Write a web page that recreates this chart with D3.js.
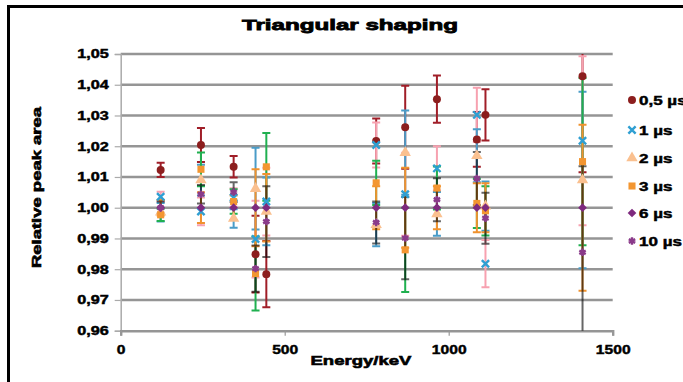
<!DOCTYPE html>
<html><head><meta charset="utf-8">
<script src="https://cdn.jsdelivr.net/npm/d3@7"></script>
<style>
body{margin:0;background:#fff;overflow:hidden}
text{font-family:"Liberation Sans",Arial,sans-serif;font-weight:bold;fill:#000;stroke:#000;stroke-width:0.45px}
</style>
</head><body>
<svg id="c" width="683" height="382"></svg>
<script>
// ---- data ----
const energies = [121.8, 244.7, 344.3, 411.1, 444.0, 778.9, 867.4, 964.1, 1085.8, 1112.1, 1408.0];
const seriesNames = ["0,5 µs", "1 µs", "2 µs", "3 µs", "6 µs", "10 µs"];
const s05 = [1.0123, 1.0204, 1.0133, 0.9849, 0.9784, 1.0217, 1.0262, 1.0353, 1.0222, 1.0302, 1.0428];
const e05 = [0.0023, 0.0055, 0.0035, 0.0125, 0.0108, 0.0073, 0.0135, 0.0077, 0.0089, 0.0083, 0.0313];
const s1  = [1.0036, 0.9988, 1.0033, 0.9898, 1.0020, 1.0204, 1.0044, 1.0128, 1.0302, 0.9818, 1.0218];
const e1  = [0.0016, 0.0045, 0.0030, 0.0125, 0.0110, 0.0073, 0.0135, 0.0072, 0.0088, 0.0077, 0.0275];
const s2  = [0.9985, 1.0090, 0.9965, 1.0062, 0.9988, 0.9945, 1.0179, 0.9980, 1.0169, 1.0005, 1.0090];
const e2  = [0.0030, 0.0050, 0.0030, 0.0133, 0.0110, 0.0070, 0.0137, 0.0071, 0.0086, 0.0080, 0.0287];
const s3  = [0.9977, 1.0125, 1.0020, 0.9786, 1.0133, 1.0081, 0.9863, 1.0064, 1.0014, 0.9990, 1.0150];
const e3  = [0.0020, 0.0055, 0.0040, 0.0120, 0.0110, 0.0072, 0.0137, 0.0070, 0.0080, 0.0080, 0.0272];
const s6  = [1.0000, 1.0000, 1.0000, 1.0000, 1.0000, 1.0000, 1.0000, 1.0000, 1.0000, 1.0000, 1.0000];
const e6  = [0.0025, 0.0050, 0.0040, 0.0125, 0.0110, 0.0070, 0.0130, 0.0070, 0.0080, 0.0080, 0.0270];
const s10 = [1.0000, 1.0044, 1.0051, 0.9802, 0.9955, 0.9952, 0.9901, 1.0026, 1.0095, 0.9966, 0.9855];
const e10 = [0.0020, 0.0030, 0.0032, 0.0075, 0.0115, 0.0068, 0.0134, 0.0070, 0.0086, 0.0083, 0.0280];
const yTicks = [0.96, 0.97, 0.98, 0.99, 1.00, 1.01, 1.02, 1.03, 1.04, 1.05];
const xTicks = [0, 500, 1000, 1500];

// ---- styles ----
const markerColors = ["#8c1e1e", "#2f9fd2", "#fac08f", "#f39631", "#7e2a7e", "#8a3a8a"];
const barColors    = ["#a01e28", "#f7a1b0", "#4a9cc8", "#20b050", "#f0922e", "#000000"];
const barOpacity   = [1, 1, 1, 1, 1, 0.6];
const symbols = [d3.symbolCircle, d3.symbolX, d3.symbolTriangle, d3.symbolSquare, "diamond", d3.symbolAsterisk];
const symbolSize = [50, 36, 56, 50, 38, 38];

const values = [s05, s1, s2, s3, s6, s10];
const errors = [e05, e1, e2, e3, e6, e10];

const svg = d3.select("#c");
const X0 = 120.7, X1 = 612.7, Y0 = 330.7, Y1 = 54;
const x = d3.scaleLinear().domain([0, 1500]).range([X0, X1]);
const y = d3.scaleLinear().domain([0.96, 1.05]).range([Y0, Y1]);
const fmt = v => v.toFixed(2).replace(".", ",");

function stretch(sel, factor) {
  sel.each(function () {
    const l = this.getComputedTextLength();
    d3.select(this).attr("textLength", l * factor).attr("lengthAdjust", "spacingAndGlyphs");
  });
}

// outer frame
svg.append("rect").attr("x", 8.5).attr("y", 6.5).attr("width", 700).attr("height", 400)
  .attr("fill", "none").attr("stroke", "#000").attr("stroke-width", 3);

// gridlines
svg.append("g").selectAll("line").data(yTicks.filter(v => v > 0.96)).join("line")
  .attr("x1", X0).attr("x2", X1).attr("y1", d => y(d)).attr("y2", d => y(d))
  .attr("stroke", "#959595").attr("stroke-width", 2.4);

// y axis
const yAxis = svg.append("g").attr("transform", `translate(${X0},0)`)
  .call(d3.axisLeft(y).tickValues(yTicks).tickFormat(fmt).tickSize(6).tickPadding(6));
yAxis.select(".domain").attr("stroke", "#aaa").attr("stroke-width", 1.5);
yAxis.selectAll(".tick line").attr("stroke", "#aaa").attr("stroke-width", 1.2);
yAxis.selectAll(".tick text").attr("font-size", 12).attr("font-family", null).attr("fill", "#000");
stretch(yAxis.selectAll(".tick text"), 1.35);

// x axis
const xAxis = svg.append("g").attr("transform", `translate(0,${Y0})`)
  .call(d3.axisBottom(x).tickValues(xTicks).tickFormat(d3.format("d")).tickSize(5).tickPadding(9));
xAxis.select(".domain").attr("stroke", "#959595").attr("stroke-width", 2.4);
xAxis.selectAll(".tick line").attr("stroke", "#999").attr("stroke-width", 1.2);
xAxis.selectAll(".tick text").attr("font-size", 13).attr("font-family", null).attr("fill", "#000");
stretch(xAxis.selectAll(".tick text"), 1.2);

// clip
svg.append("clipPath").attr("id", "plot").append("rect")
  .attr("x", X0 - 10).attr("y", Y1).attr("width", X1 - X0 + 20).attr("height", Y0 - Y1);

// error bars
const eb = svg.append("g").attr("clip-path", "url(#plot)");
values.forEach((vals, si) => {
  const g = eb.append("g").attr("stroke", barColors[si]).attr("stroke-opacity", barOpacity[si])
    .attr("stroke-width", 2).attr("fill", "none");
  energies.forEach((en, i) => {
    const cx = x(en), lo = y(vals[i] - errors[si][i]), hi = y(vals[i] + errors[si][i]);
    g.append("path").attr("d", `M${cx},${lo}V${hi}M${cx - 4},${lo}H${cx + 4}M${cx - 4},${hi}H${cx + 4}`);
  });
});

// markers
function symPath(si) {
  if (symbols[si] === "diamond") return d3.symbol(d3.symbolSquare, symbolSize[si])();
  return d3.symbol(symbols[si], symbolSize[si])();
}
function drawMarker(g, si, cx, cy) {
  const stroked = symbols[si] === d3.symbolX || symbols[si] === d3.symbolAsterisk;
  const p = g.append("path").attr("d", symPath(si))
    .attr("transform", `translate(${cx},${cy})` + (symbols[si] === "diamond" ? " rotate(45)" : ""));
  if (stroked) p.attr("fill", "none").attr("stroke", markerColors[si]).attr("stroke-width", 2.4);
  else p.attr("fill", markerColors[si]);
}
const mk = svg.append("g");
values.forEach((vals, si) => {
  energies.forEach((en, i) => drawMarker(mk, si, x(en), y(vals[i])));
});

// title
svg.append("text").attr("x", 350).attr("y", 29.5).attr("text-anchor", "middle")
  .attr("font-size", 15).style("stroke-width", "0.8px")
  .attr("textLength", 216).attr("lengthAdjust", "spacingAndGlyphs").text("Triangular shaping");

// axis titles
svg.append("text").attr("x", 361).attr("y", 365).attr("text-anchor", "middle")
  .attr("font-size", 13).style("stroke-width", "0.6px")
  .attr("textLength", 101).attr("lengthAdjust", "spacingAndGlyphs").text("Energy/keV");
svg.append("text").attr("transform", "translate(41,187.5) rotate(-90)").attr("text-anchor", "middle")
  .attr("font-size", 13).style("stroke-width", "0.6px")
  .attr("textLength", 161).attr("lengthAdjust", "spacingAndGlyphs").text("Relative peak area");

// legend
const legY = [100, 130, 158, 186, 213, 241];
const lg = svg.append("g");
seriesNames.forEach((name, si) => {
  drawMarker(lg, si, 632, legY[si]);
  const t = lg.append("text").attr("x", 639).attr("y", legY[si]).attr("dy", "0.36em")
    .attr("font-size", 12.5).text(name);
  stretch(t, 1.36);
});
</script>
</body></html>
